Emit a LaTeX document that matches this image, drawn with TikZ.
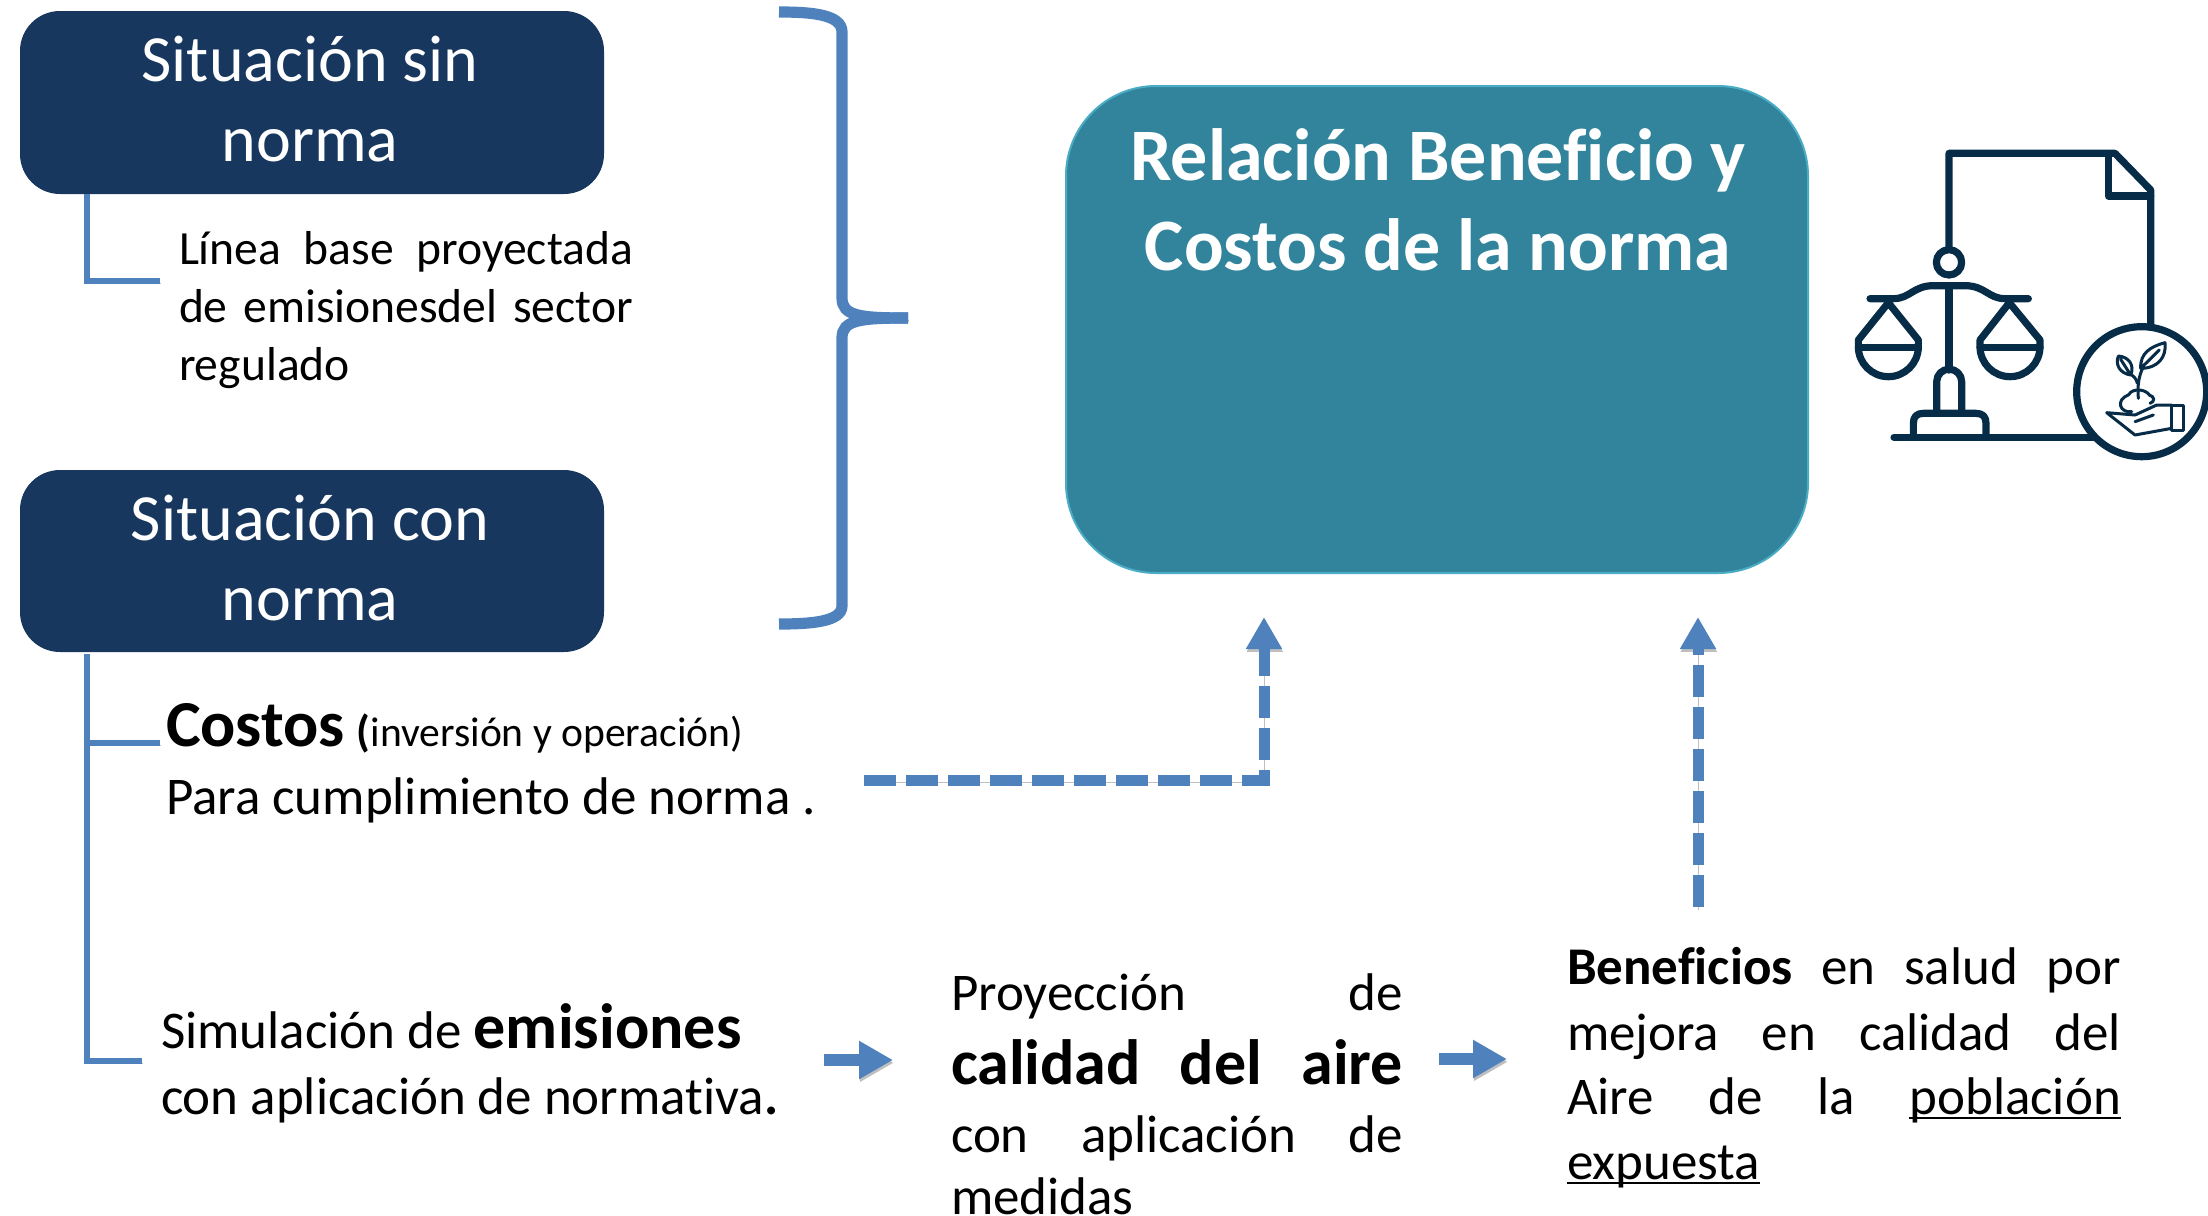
\documentclass[tikz,border=0pt]{standalone}
\usepackage{fontspec}
\setmainfont{Carlito}[Ligatures={TeX,CommonOff}]
\usetikzlibrary{arrows.meta}
\definecolor{navy}{HTML}{17375E}
\definecolor{teal1}{HTML}{31849B}
\definecolor{teal2}{HTML}{4BACC6}
\definecolor{lineblue}{HTML}{4F81BD}
\definecolor{icon}{HTML}{062C48}
\newcommand\fs[1]{\fontsize{#1}{#1}\selectfont}
\newcommand\block[1]{\vtop{\baselineskip=0pt\lineskiplimit=-1000pt\lineskip=0pt #1}}
\newcommand\row[2]{\vskip#1pt\hbox{#2}}
\newcommand\js[2]{\makebox[#1pt][s]{#2}}
\newcommand\ul[1]{\setbox0\hbox{#1}\rlap{\rule[-2.7pt]{\wd0}{1.1pt}}\box0}
\tikzset{
  x=0.5pt,y=-0.5pt,
  navybox/.style={fill=navy,rounded corners=20pt,draw=none},
  txt/.style={inner sep=0pt,outer sep=0pt,anchor=base west,text=black},
  boxtxt/.style={inner sep=0pt,outer sep=0pt,anchor=base,text=white},
  softshadow/.style={preaction={draw=black,opacity=.25,transform canvas={xshift=.4pt,yshift=-1.4pt}}},
  link/.style={draw=lineblue,line width=2.8pt,softshadow},
  bracepath/.style={draw=lineblue,line width=5.6pt,softshadow},
  dasharrow/.style={draw=lineblue,line width=5.5pt,dash pattern=on 16pt off 5pt,softshadow},
  tipthin/.style={-{Triangle[length=16pt,width=17pt]}},
  blockarrow/.style={draw=lineblue,line width=6pt,softshadow,-{Triangle[length=17pt,width=18pt]}},
  ic/.style={draw=icon,line width=3.6pt,line join=round,line cap=round},
  icthin/.style={draw=icon,line width=1.5pt,line join=round,line cap=round},
}
\begin{document}
\begin{tikzpicture}
\useasboundingbox (0,0) rectangle (2208,1216);
% boxes
\fill[navybox] (20,11) rectangle (604,194);
\coordinate (b1) at (87,194);
\fill[navybox] (20,470) rectangle (604,652);
\coordinate (b2) at (87,654);
\node[boxtxt,font=\fs{33}] (s1) at (310,81) {\block{\hbox to 0pt{\hss Situación sin\hss}\row{40}{\hbox to 0pt{\hss norma\hss}}}};
\node[boxtxt,font=\fs{33}] (s2) at (310,540) {\block{\hbox to 0pt{\hss Situación con\hss}\row{40}{\hbox to 0pt{\hss norma\hss}}}};
% teal box
\draw[fill=teal1,draw=teal2,line width=1pt,rounded corners=45pt] (1066,86) rectangle (1808,573);
\node[boxtxt,font=\bfseries\fs{37}] (title) at (1438,180) {\block{\hbox to 0pt{\hss Relación Beneficio y\hss}\row{45}{\hbox to 0pt{\hss Costos de la norma\hss}}}};
% brace
\coordinate (brT) at (779,12);
\coordinate (brB) at (779,624);
\coordinate (brM) at (908,318);
\draw[bracepath,line cap=butt] (brT) .. controls (810,12) and (842,14) .. (842,32) -- (842,298) .. controls (842,316) and (860,318) .. (brM);
\draw[bracepath,line cap=butt] (brB) .. controls (810,624) and (842,622) .. (842,606) -- (842,338) .. controls (842,320) and (860,318) .. (brM);
% texts
\node[txt,font=\fs{23.8}] (lb) at (179,264) {\block{\hbox{\js{227}{Línea base proyectada}}\row{29}{\js{227}{de emisionesdel sector}}\row{29}{regulado}}};
\node[txt,font=\fs{26.5}] (cost) at (166,746) {\block{\hbox{{\bfseries\fs{32.8}Costos} {\bfseries\fs{22}(}{\fs{20.8}inversión y operación)}}\row{34}{Para cumplimiento de norma .}}};
\node[txt,font=\fs{26.5}] (sim) at (161,1048) {\block{\hbox{Simulación de {\bfseries\fs{32}emisiones}}\row{33}{con aplicación de normativa{\bfseries .}}}};
\node[txt,font=\fs{26.5}] (air) at (951,1010) {\block{\hbox{\js{226}{Proyección de}}\row{37}{\js{226}{\bfseries\fs{32}calidad del aire}}\row{34}{\js{226}{con aplicación de}}\row{31}{medidas}}};
\node[txt,font=\fs{26.5}] (ben) at (1567,984) {\block{\hbox{\js{277}{{\bfseries Beneficios} en salud por}}\row{33}{\js{277}{mejora en calidad del}}\row{32}{\js{277}{Aire de la \ul{población}}}\row{32.5}{\ul{expuesta}}}};
% L connectors
\coordinate (c1) at (160,281);
\coordinate (c2) at (160,743);
\coordinate (c3) at (142,1061);
\draw[link] (b1) |- (c1);
\draw[link] (b2) |- (c2);
\draw[link] (b2) |- (c3);
% dashed arrows
\coordinate (d1s) at (864,780);
\coordinate (d1e) at (1264,617);
\coordinate (d2s) at (1698,907);
\coordinate (d2e) at (1698,617);
\draw[dasharrow,tipthin] (d1s) -| (d1e);
\draw[dasharrow,tipthin] (d2s) -- (d2e);
% small arrows
\coordinate (a1s) at (824,1060);
\coordinate (a1e) at (893,1060);
\coordinate (a2s) at (1439,1059);
\coordinate (a2e) at (1507,1059);
\draw[blockarrow] (a1s) -- (a1e);
\draw[blockarrow] (a2s) -- (a2e);
% icon
\begin{scope}[shift={(1800,120)},x=0.16667pt,y=-0.16667pt]
\draw[ic] (447,385) -- (447,100) -- (945,100) -- (1052,210) -- (1052,620);
\draw[ic] (925,110) -- (925,228) -- (1052,228);
\draw[ic] (447,427) circle (38);
\draw[ic] (210,536) -- (280,536) .. controls (330,536) and (340,497) .. (400,497) -- (495,497) .. controls (555,497) and (565,536) .. (615,536) -- (685,536);
\draw[ic] (447,497) -- (447,750);
\draw[ic] (410,870) -- (410,785) arc (180:360:37.5) -- (485,870);
\draw[ic] (340,950) -- (340,910) .. controls (340,890) and (350,880) .. (370,880) -- (528,880) .. controls (548,880) and (558,890) .. (558,910) -- (558,950);
\draw[ic] (282,952) -- (885,952);
\draw[ic] (265,548) -- (175,660) -- (175,680) arc (180:0:90) -- (355,660) -- cycle;
\draw[ic] (175,682) -- (355,682);
\draw[ic] (628,548) -- (540,660) -- (540,680) arc (180:0:90) -- (720,660) -- cycle;
\draw[ic] (540,682) -- (720,682);
\draw[ic,fill=white] (1025,815) circle (195);
% plant in hand
\draw[icthin] (1015,835) .. controls (1012,800) and (1015,770) .. (1030,740);
\draw[icthin] (1012,790) .. controls (1010,775) and (1000,770) .. (990,760);
\draw[icthin] (1022,745) .. controls (1020,700) and (1050,680) .. (1095,668) .. controls (1100,710) and (1075,745) .. (1022,745) -- (1078,690);
\draw[icthin] (992,765) .. controls (960,760) and (945,735) .. (955,708) .. controls (985,710) and (1005,735) .. (992,765) -- (962,718);
\draw[icthin] (995,875) .. controls (960,880) and (945,840) .. (985,825) .. controls (1000,800) and (1040,810) .. (1048,825) .. controls (1065,830) and (1065,845) .. (1050,850);
\draw[icthin] (1115,855) -- (1150,855) -- (1150,930) -- (1115,930) -- cycle;
\draw[icthin] (1115,855) -- (1070,855) -- (1005,885) -- (920,878) -- (1005,945) -- (1115,925);
\draw[icthin] (1005,905) -- (1060,885);
\end{scope}
\end{tikzpicture}
\end{document}
